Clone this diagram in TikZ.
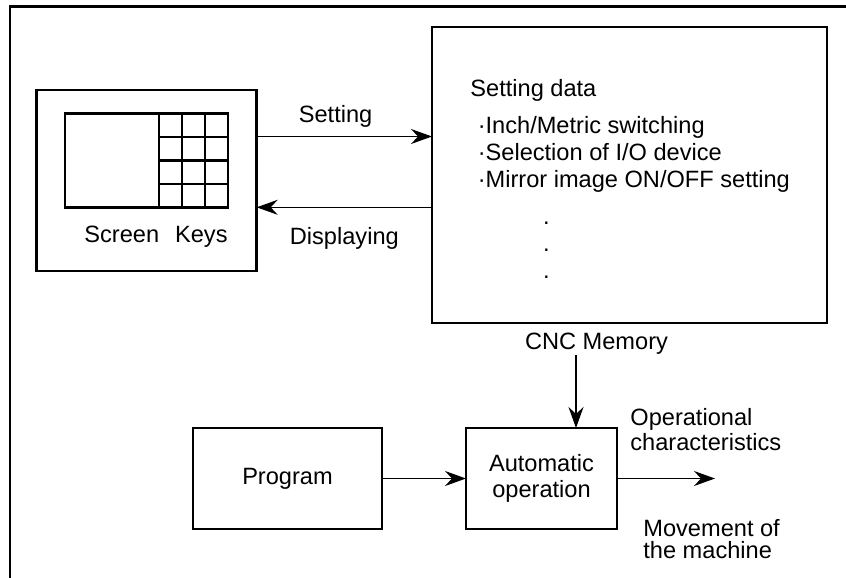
\documentclass[tikz,border=0pt]{standalone}
\usepackage{fontspec}
\setmainfont{Liberation Sans}
\usetikzlibrary{positioning, arrows.meta, calc}

\begin{document}
\begin{tikzpicture}[
      x=0.5pt, y=-0.5pt,
      font=\fontsize{11.8}{13.5}\selectfont,
      box/.style={draw, line width=1.3pt, inner sep=0pt, outer sep=0pt},
      lbl/.style={inner sep=0pt},
      arr/.style={-{Stealth[length=10.5pt, width=7.5pt, inset=3.5pt]}, line width=0.55pt},
      frm/.style={line width=1.1pt},
      node distance=5pt]
    \useasboundingbox (0,0) rectangle (846,578);
    \draw[frm] (10,578) -- (10,6.5) -- (846,6.5);
    \node[box, minimum width=110pt, minimum height=90.5pt] (panel) at (146.7,180.4) {};
    \node[box, minimum width=47pt, minimum height=47pt] (screen) at (112,160.3) {};
    \node[box, minimum width=34.5pt, minimum height=47pt, right=0pt of screen] (keys) {};
    \foreach \kc in {1,2}
      \draw[box] ($(keys.north west)!\kc/3!(keys.north east)$) -- ($(keys.south west)!\kc/3!(keys.south east)$);
    \foreach \kr in {1,2,3}
      \draw[box] ($(keys.north west)!\kr/4!(keys.south west)$) -- ($(keys.north east)!\kr/4!(keys.south east)$);
    \node[lbl, below left=9pt and 0pt of keys.south east] (sklbl) {Screen\hspace{8pt}Keys};
    \node[box, minimum width=197.5pt, minimum height=148pt] (cnc) at (629.5,175) {};
    \node[lbl, align=left, anchor=north west] (setlist) at ([xshift=19pt, yshift=-26pt]cnc.north west)
      {Setting data\\[4.8pt]
       \hspace*{3.7pt}·Inch/Metric switching\\
       \hspace*{3.7pt}·Selection of I/O device\\
       \hspace*{3.7pt}·Mirror image ON/OFF setting\\[5pt]
       \hspace*{36.3pt}.\\
       \hspace*{36.3pt}.\\
       \hspace*{36.3pt}.};
    \node[lbl, below=5pt of cnc.south, xshift=-16.5pt] (cnclbl) {CNC Memory};
    \node[box, minimum width=94.5pt, minimum height=50.5pt] (prog) at (287.5,478.5) {Program};
    \node[box, minimum width=75.5pt, minimum height=50.5pt, align=center] (auto) at (541.5,478.5)
      {Automatic\\[-0.7pt]operation};
    \node[lbl, align=left, above right=13.5pt and 6.5pt of auto.east] (opchar)
      {Operational\\[-0.7pt]characteristics};
    \node[lbl, align=left, below right=20.5pt and 13pt of auto.east] (move)
      {Movement of\\[-2.6pt]the machine};
    \coordinate[right=49pt of auto.east] (out);
    \coordinate (setL) at ([yshift=-23.3pt]panel.north east);
    \coordinate (memin) at ([xshift=17.25pt]auto.north);
    \draw[arr] (setL) -- node[lbl, above=4.5pt, pos=0.45] {Setting} (setL -| cnc.west);
    \draw[arr] (cnc.west |- screen.south) -- node[lbl, below=10pt] {Displaying} (panel.east |- screen.south);
    \draw[arr] (memin |- cnclbl.south) -- (memin);
    \draw[arr] (prog) -- (auto);
    \draw[arr] (auto) -- (out);
  \end{tikzpicture}
\end{document}
